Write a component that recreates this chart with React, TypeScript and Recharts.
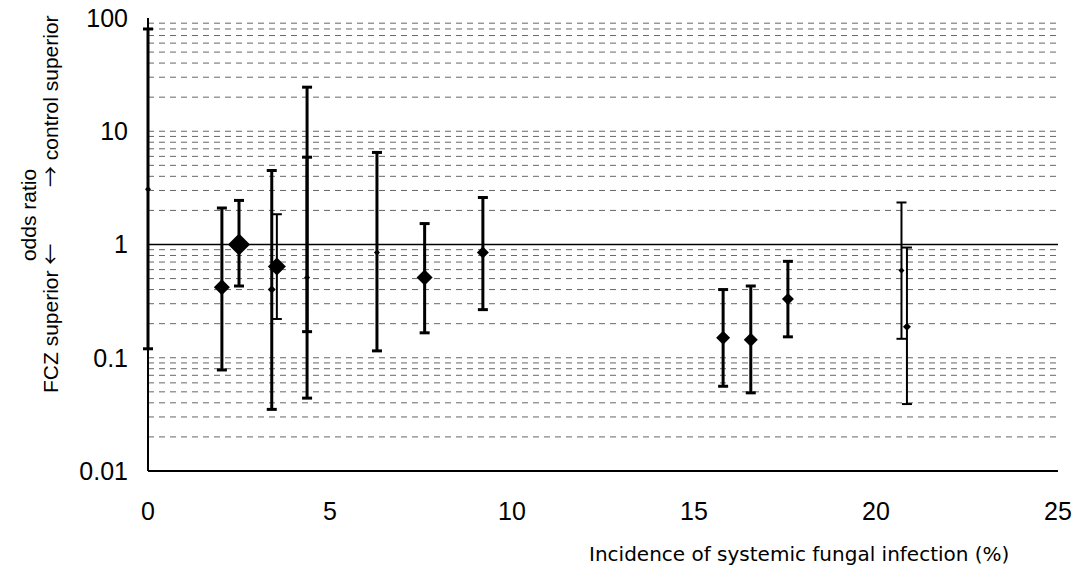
import { ScatterChart, Scatter, XAxis, YAxis, ErrorBar, ReferenceLine } from 'recharts';

// incidence (%) of each study
const incidence = [0, 2.03, 2.5, 3.4, 3.54, 4.37, 4.37, 6.29, 7.6, 9.2, 15.8, 16.56, 17.58, 20.7, 20.85];
// odds ratio and 95% CI
const oddsRatio = [3.07, 0.42, 1.0, 0.4, 0.64, 0.51, 0.51, 0.85, 0.51, 0.85, 0.15, 0.144, 0.33, 0.59, 0.188];
const ciLow = [0.12, 0.078, 0.43, 0.035, 0.22, 0.044, 0.17, 0.115, 0.166, 0.266, 0.056, 0.049, 0.153, 0.147, 0.039];
const ciHigh = [80, 2.1, 2.45, 4.5, 1.85, 24.5, 5.9, 6.5, 1.53, 2.6, 0.4, 0.43, 0.71, 2.35, 0.94];
// study weight -> marker size
const weight = [3, 8, 11, 4, 9, 3, 0, 3, 8, 6, 7, 7, 6, 3, 4];
const thin = [false, false, false, false, true, false, false, false, false, false, false, false, false, true, true];

const xTicks = [0, 5, 10, 15, 20, 25];
const yTicks = [0.01, 0.1, 1, 10, 100];
const minorGrid = [
  0.02, 0.03, 0.04, 0.05, 0.06, 0.07, 0.08, 0.09, 0.1,
  0.2, 0.3, 0.4, 0.5, 0.6, 0.7, 0.8, 0.9,
  2, 3, 4, 5, 6, 7, 8, 9, 10,
  20, 30, 40, 50, 60, 70, 80, 90,
];

const rows = incidence.map((x, i) => ({
  x,
  y: oddsRatio[i],
  err: [oddsRatio[i] - ciLow[i], ciHigh[i] - oddsRatio[i]],
  size: weight[i],
  thin: thin[i],
}));

const Diamond = (props: any) => {
  const { cx, cy, payload } = props;
  const s = payload.size;
  if (!s) return <g />;
  return (
    <polygon
      points={`${cx - s},${cy} ${cx},${cy - s} ${cx + s},${cy} ${cx},${cy + s}`}
      fill="#000"
    />
  );
};

const font = 'Arial, "Liberation Sans", sans-serif';
const cjk = '"Noto Sans CJK JP", sans-serif';

const YLabel = () => (
  <g fontFamily={font} fontSize={21} fill="#000">
    <text x={0} y={0} transform="translate(36,215) rotate(-90)" textAnchor="middle">odds ratio</text>
    <text x={0} y={0} transform="translate(58,393) rotate(-90)" textAnchor="start">
      FCZ superior <tspan fontFamily={cjk}>←</tspan>
    </text>
    <text x={0} y={0} transform="translate(58,187) rotate(-90)" textAnchor="start">
      <tspan fontFamily={cjk}>→</tspan> control superior
    </text>
  </g>
);

const XLabel = () => (
  <text x={589} y={561} fontFamily='"DejaVu Sans", sans-serif' fontSize={20} fill="#000">
    Incidence of systemic fungal infection (%)
  </text>
);

export default function App() {
  return (
    <div style={{ position: 'absolute', left: 0, top: 0, background: '#fff' }}>
      <ScatterChart width={1077} height={569} margin={{ top: 18, right: 19, bottom: 38, left: 68 }}>
        <XAxis
          type="number"
          dataKey="x"
          domain={[0, 25]}
          ticks={xTicks}
          height={60}
          tickLine={false}
          tickSize={0}
          tickMargin={31}
          axisLine={{ stroke: '#000', strokeWidth: 2 }}
          tick={{ fill: '#000', fontSize: 25, fontFamily: font }}
          label={{ content: () => <XLabel /> }}
        />
        <XAxis xAxisId="top" orientation="top" type="number" domain={[0, 25]} height={0} tick={false} tickLine={false} axisLine={{ stroke: '#000', strokeWidth: 1.5 }} />
        <YAxis
          type="number"
          dataKey="y"
          scale="log"
          domain={[0.01, 100]}
          allowDataOverflow
          ticks={yTicks}
          tickFormatter={(v: number) => String(v)}
          width={80}
          tickLine={false}
          tickSize={0}
          tickMargin={20}
          axisLine={{ stroke: '#000', strokeWidth: 2 }}
          tick={{ fill: '#000', fontSize: 25, fontFamily: font }}
          label={{ content: () => <YLabel /> }}
        />
        <YAxis yAxisId="right" orientation="right" type="number" domain={[0, 1]} width={0} tick={false} tickLine={false} axisLine={{ stroke: '#000', strokeWidth: 1.5 }} />
        {minorGrid.map((v) => (
          <ReferenceLine key={v} y={v} stroke="#666" strokeWidth={1} strokeDasharray="6 5" />
        ))}
        <ReferenceLine y={1} stroke="#000" strokeWidth={1.5} />
        <Scatter data={rows.filter((r) => !r.thin)} shape={Diamond} isAnimationActive={false}>
          <ErrorBar dataKey="err" direction="y" width={5} strokeWidth={3} stroke="#000" />
        </Scatter>
        <Scatter data={rows.filter((r) => r.thin)} shape={Diamond} isAnimationActive={false}>
          <ErrorBar dataKey="err" direction="y" width={5} strokeWidth={2} stroke="#000" />
        </Scatter>
      </ScatterChart>
    </div>
  );
}
